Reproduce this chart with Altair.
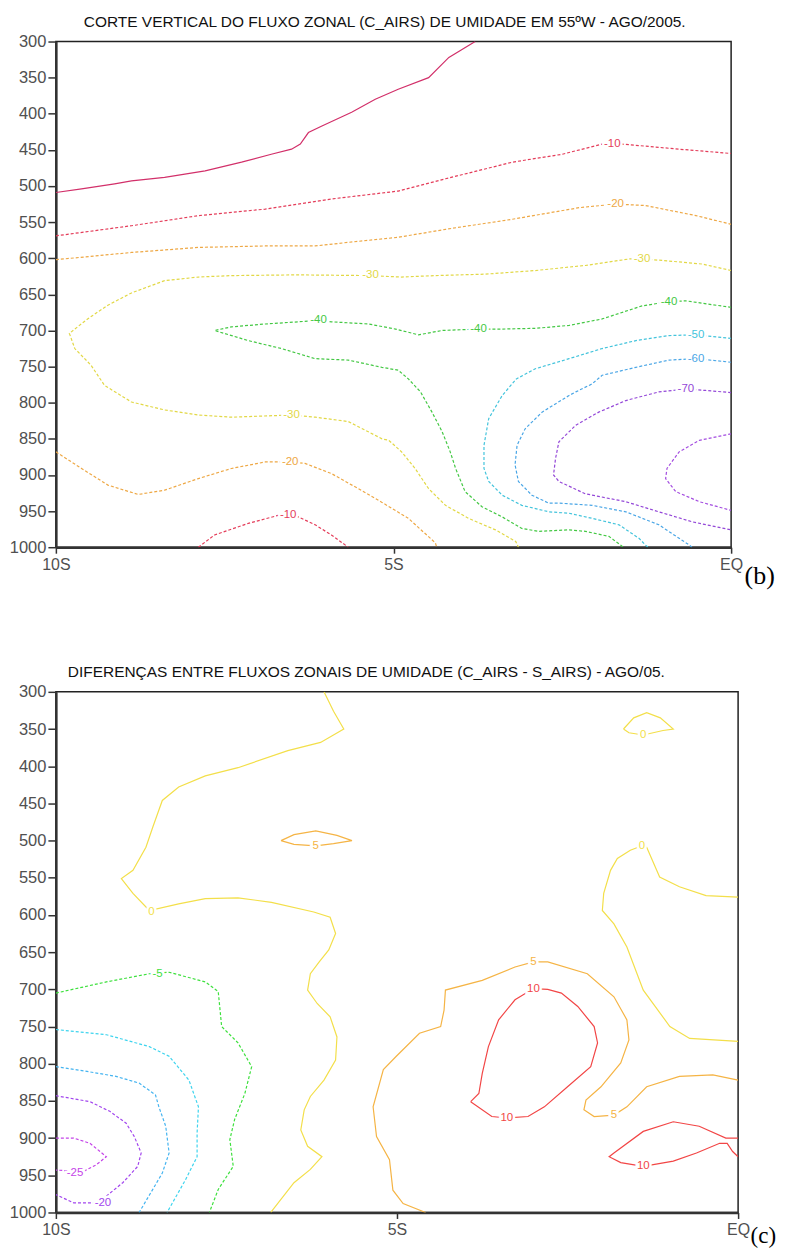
import altair as alt
import pandas as pd

# ---------------- panel (b): zonal moisture flux, C_AIRS, 55W, Aug/2005 ----------------
# latitude in degrees (south negative), pressure in hPa
T0_LAT = [-10.0, -9.62, -9.13, -8.88, -8.39, -7.79, -7.25, -6.81, -6.51, -6.38, -6.26, -6.06, -5.62, -5.27, -4.93, -4.48, -4.18, -3.79]
T0_P = [509, 504, 497, 493, 488, 479, 467, 456, 449, 442, 426, 417, 398, 380, 366, 350, 322, 300]

TM10A_LAT = [-10.0, -8.88, -7.89, -6.90, -5.92, -4.93, -4.23, -3.24, -2.50, -1.91, -1.61, -0.77, 0.0]
TM10A_P = [569, 555, 541, 532, 518, 507, 490, 467, 456, 442, 442, 449, 455]

TM10B_LAT = [-7.89, -7.65, -7.15, -6.71, -6.41, -6.16, -5.92, -5.67]
TM10B_P = [1000, 983, 967, 956, 958, 969, 983, 1000]

TM20A_LAT = [-10.0, -8.88, -7.89, -6.90, -6.16, -5.67, -4.93, -4.23, -3.24, -2.25, -1.71, -1.27, -0.52, 0.0]
TM20A_P = [602, 592, 585, 583, 583, 578, 571, 560, 546, 530, 525, 527, 541, 553]

TM20B_LAT = [-10.0, -9.62, -9.23, -8.78, -8.39, -7.89, -7.40, -6.90, -6.53, -6.31, -5.92, -5.52, -5.17, -4.78, -4.38, -4.36]
TM20B_P = [868, 891, 914, 927, 921, 905, 891, 882, 882, 884, 898, 919, 938, 960, 994, 1000]

TM30_LAT = [0.0, -0.43, -1.02, -1.32, -1.51, -2.16, -2.90, -3.64, -4.38, -4.88, -5.37, -6.41, -7.40, -7.89,
            -8.39, -8.88, -9.23, -9.53, -9.80, -9.72, -9.48, -9.28, -8.88, -8.39, -7.89, -7.40, -6.51, -6.16,
            -5.67, -5.17, -5.07, -4.88, -4.68, -4.48, -4.23, -3.89, -3.49, -3.19, -3.15]
TM30_P = [617, 608, 603, 601, 601, 610, 617, 622, 624, 626, 624, 623, 624, 626,
          631, 648, 665, 684, 704, 725, 748, 776, 799, 810, 817, 820, 817, 820,
          826, 850, 852, 868, 891, 919, 942, 960, 976, 992, 1000]

TM40_LAT = [0.0, -0.67, -0.92, -1.32, -1.91, -2.40, -2.90, -3.39, -3.74, -4.28, -4.63, -4.97, -5.37, -5.92,
            -6.11, -6.41, -6.90, -7.40, -7.65, -7.15, -6.66, -6.16, -5.67, -5.17, -4.93, -4.78, -4.60, -4.43,
            -4.28, -4.16, -4.08, -3.94, -3.69, -3.39, -3.10, -2.85, -2.40, -2.16, -1.81, -1.61, -1.59]
TM40_P = [668, 659, 660, 666, 684, 693, 697, 698, 698, 700, 706, 698, 691, 688,
          686, 688, 691, 695, 700, 714, 725, 739, 741, 751, 755, 767, 785, 813,
          840, 868, 891, 923, 944, 958, 974, 978, 976, 978, 985, 999, 1000]

TM50_LAT = [0.0, -0.52, -0.92, -1.41, -1.91, -2.40, -2.90, -3.18, -3.39, -3.59, -3.66, -3.66, -3.59, -3.39,
            -3.10, -2.70, -2.40, -2.06, -1.66, -1.36, -1.27, -1.23]
TM50_P = [711, 706, 707, 714, 725, 739, 753, 767, 790, 822, 859, 891, 909, 928,
          942, 951, 953, 960, 969, 988, 997, 1000]

TM60_LAT = [0.0, -0.52, -0.92, -1.41, -1.91, -2.06, -2.30, -2.40, -2.80, -3.05, -3.17, -3.20, -3.15, -2.95,
            -2.70, -2.55, -2.06, -1.56, -1.07, -0.62, -0.58]
TM60_P = [744, 739, 741, 751, 762, 774, 785, 790, 813, 836, 859, 886, 909, 928,
          939, 939, 942, 951, 969, 997, 1000]

TM70_LAT = [0.0, -0.38, -0.67, -1.07, -1.56, -1.96, -2.30, -2.55, -2.60, -2.63, -2.55, -2.16, -1.56, -1.07, -0.57, 0.0]
TM70_P = [786, 783, 781, 785, 797, 813, 831, 854, 877, 900, 909, 926, 937, 951, 965, 976]

TM80_LAT = [0.0, -0.47, -0.77, -0.95, -0.97, -0.82, -0.47, 0.0]
TM80_P = [843, 852, 868, 891, 905, 923, 937, 949]

TOP_KEYS = ["T0", "T-10", "T-20", "T-30", "T-40", "T-50", "T-60", "T-70", "T-80"]
TOP_COLORS = ["#d2306a", "#e43d5a", "#eea845", "#e2d846", "#44c844", "#44c4dc", "#4aa6e6", "#9448d8", "#a44ee0"]

TOP_LABEL_TEXT = ["-10", "-20", "-30", "-30", "-40", "-40", "-40", "-50", "-60", "-70", "-30", "-20", "-10"]
TOP_LABEL_LAT = [-1.76, -1.71, -1.32, -5.34, -0.92, -3.74, -6.11, -0.52, -0.52, -0.67, -6.51, -6.53, -6.56]
TOP_LABEL_P = [442, 525, 601, 623, 660, 698, 686, 706, 739, 781, 817, 882, 955]
TOP_LABEL_KEY = ["T-10", "T-20", "T-30", "T-30", "T-40", "T-40", "T-40", "T-50", "T-60", "T-70", "T-30", "T-20", "T-10"]

# ---------------- panel (c): differences C_AIRS - S_AIRS, Aug/05 ----------------
B0A_LAT = [-6.07, -5.93, -5.78, -6.12, -6.60, -7.33, -7.81, -8.20, -8.44, -8.58, -8.68, -8.87, -9.04, -8.87,
           -8.63, -8.20, -7.81, -7.33, -6.84, -6.22, -5.98, -5.90, -6.00, -6.14, -6.27, -6.31, -6.17, -5.98,
           -5.88, -5.90, -6.07, -6.27, -6.36, -6.41, -6.31, -6.10, -6.27, -6.51, -6.85]
B0A_P = [300, 326, 350, 368, 379, 402, 413, 428, 446, 482, 509, 540, 551, 571,
         594, 585, 578, 577, 583, 596, 603, 625, 647, 663, 679, 701, 719, 737,
         764, 795, 822, 844, 862, 889, 911, 925, 942, 960, 1000]

B0B_LAT = [-1.68, -1.53, -1.34, -1.14, -0.95, -1.10, -1.39, -1.60, -1.68]
B0B_P = [350, 335, 328, 335, 350, 352, 358, 355, 350]

B0C_LAT = [0.0, -0.47, -0.86, -1.15, -1.34, -1.41, -1.58, -1.77, -1.87, -1.97, -1.99, -1.82, -1.63, -1.39, -1.0, -0.71, 0.0]
B0C_P = [576, 574, 562, 549, 509, 507, 513, 524, 540, 571, 594, 612, 643, 701, 750, 766, 770]

B5A_LAT = [-6.70, -6.51, -6.19, -5.88, -5.66, -5.93, -6.19, -6.51, -6.70]
B5A_P = [500, 492, 487, 493, 500, 504, 507, 505, 500]

B5B_LAT = [-4.58, -4.91, -5.06, -5.11, -5.30, -5.35, -5.20, -5.01, -4.67, -4.36, -4.31, -4.29, -3.75, -3.27,
           -3.00, -2.79, -2.21, -1.82, -1.63, -1.60, -1.72, -2.01, -2.23, -2.26, -2.11, -1.82, -1.63, -1.34,
           -0.86, -0.37, 0.0]
B5B_P = [1000, 988, 970, 929, 898, 858, 808, 790, 759, 750, 728, 701, 688, 670,
         663, 663, 679, 710, 741, 768, 799, 831, 849, 862, 871, 869, 858, 831,
         817, 815, 822]

B10A_LAT = [-3.92, -3.80, -3.75, -3.66, -3.51, -3.27, -3.00, -2.79, -2.59, -2.35, -2.11, -2.06, -2.16, -2.50,
            -2.84, -3.08, -3.39, -3.61, -3.92]
B10A_P = [851, 840, 813, 777, 741, 714, 699, 700, 705, 723, 750, 772, 804, 831,
          858, 871, 873, 871, 851]

B10B_LAT = [0.0, -0.18, -0.57, -0.95, -1.39, -1.82, -1.89, -1.72, -1.39, -0.95, -0.61, -0.27, -0.16, -0.08, 0.0]
B10B_P = [900, 900, 884, 878, 891, 920, 925, 933, 938, 931, 920, 907, 907, 918, 925]

BM5_LAT = [-10.0, -9.26, -8.63, -8.34, -7.81, -7.62, -7.57, -7.33, -7.13, -7.23, -7.38, -7.45, -7.40, -7.62, -7.75]
BM5_P = [705, 690, 679, 677, 690, 703, 750, 772, 804, 840, 875, 902, 938, 969, 1000]

BM10_LAT = [-10.0, -9.26, -8.63, -8.34, -8.05, -7.91, -7.93, -7.93, -8.10, -8.37]
BM10_P = [754, 761, 777, 790, 822, 858, 893, 925, 956, 1000]

BM15_LAT = [-10.0, -9.50, -9.12, -8.78, -8.54, -8.49, -8.39, -8.34, -8.44, -8.58, -8.78]
BM15_P = [804, 811, 817, 826, 842, 858, 884, 920, 947, 969, 1000]

BM20_LAT = [-10.0, -9.50, -9.21, -8.97, -8.85, -8.75, -8.80, -9.02, -9.26, -9.45, -9.74, -10.0]
BM20_P = [843, 851, 864, 880, 898, 920, 938, 960, 978, 987, 987, 976]

BM25_LAT = [-10.0, -9.74, -9.50, -9.26, -9.41, -9.60, -10.0]
BM25_P = [900, 900, 907, 925, 936, 945, 943]

BOT_KEYS = ["B10", "B5", "B0", "B-5", "B-10", "B-15", "B-20", "B-25"]
BOT_COLORS = ["#f24646", "#f5b445", "#f3df4a", "#3ee03e", "#3ed4ee", "#45b4f0", "#a246ee", "#c444e8"]

BOT_LABEL_TEXT = ["-5", "-25", "-20", "0", "5", "0", "0", "5", "10", "10", "5", "10"]
BOT_LABEL_LAT = [-8.51, -9.72, -9.31, -8.60, -6.19, -1.39, -1.41, -3.00, -3.00, -3.39, -1.82, -1.39]
BOT_LABEL_P = [679, 947, 987, 596, 507, 358, 507, 663, 699, 873, 869, 938]
BOT_LABEL_KEY = ["B-5", "B-25", "B-20", "B0", "B5", "B0", "B0", "B5", "B10", "B10", "B5", "B10"]

P_TICKS = list(range(300, 1001, 50))
LAT_TICKS = [-10, -5, 0]

TOP_TITLE = "CORTE VERTICAL DO FLUXO ZONAL (C_AIRS) DE UMIDADE EM 55ºW - AGO/2005."
BOT_TITLE = "DIFERENÇAS ENTRE FLUXOS ZONAIS DE UMIDADE (C_AIRS - S_AIRS) - AGO/05."

TOP_CONTOURS = [
    ("t0", "T0", "solid", T0_LAT, T0_P),
    ("t10a", "T-10", "dash", TM10A_LAT, TM10A_P),
    ("t10b", "T-10", "dash", TM10B_LAT, TM10B_P),
    ("t20a", "T-20", "dash", TM20A_LAT, TM20A_P),
    ("t20b", "T-20", "dash", TM20B_LAT, TM20B_P),
    ("t30", "T-30", "dash", TM30_LAT, TM30_P),
    ("t40", "T-40", "dash", TM40_LAT, TM40_P),
    ("t50", "T-50", "dash", TM50_LAT, TM50_P),
    ("t60", "T-60", "dash", TM60_LAT, TM60_P),
    ("t70", "T-70", "dash", TM70_LAT, TM70_P),
    ("t80", "T-80", "dash", TM80_LAT, TM80_P),
]
BOT_CONTOURS = [
    ("b0a", "B0", "solid", B0A_LAT, B0A_P),
    ("b0b", "B0", "solid", B0B_LAT, B0B_P),
    ("b0c", "B0", "solid", B0C_LAT, B0C_P),
    ("b5a", "B5", "solid", B5A_LAT, B5A_P),
    ("b5b", "B5", "solid", B5B_LAT, B5B_P),
    ("b10a", "B10", "solid", B10A_LAT, B10A_P),
    ("b10b", "B10", "solid", B10B_LAT, B10B_P),
    ("bm5", "B-5", "dash", BM5_LAT, BM5_P),
    ("bm10", "B-10", "dash", BM10_LAT, BM10_P),
    ("bm15", "B-15", "dash", BM15_LAT, BM15_P),
    ("bm20", "B-20", "dash", BM20_LAT, BM20_P),
    ("bm25", "B-25", "dash", BM25_LAT, BM25_P),
]


def contour_frame(contours):
    rows = []
    for seg, key, style, lats, ps in contours:
        for i, (la, pp) in enumerate(zip(lats, ps)):
            rows.append({"seg": seg, "key": key, "style": style, "i": i, "lat": la, "p": pp})
    return pd.DataFrame(rows)


def label_frame(texts, lats, ps, keys):
    return pd.DataFrame({"text": texts, "lat": lats, "p": ps, "key": keys})


TITLE_FONT = "Liberation Sans"
LABEL_FONT = "Liberation Sans"
TAG_FONT = "Liberation Serif"


def panel(df, labels, keys, colors, width, height, title, title_dx, tag, tag_gap, tag_y, tag_size):
    x_axis = alt.Axis(
        values=LAT_TICKS, title=tag, grid=False,
        labelExpr="datum.value == -10 ? '10S' : (datum.value == -5 ? '5S' : 'EQ')",
        labelFont=LABEL_FONT, labelFontSize=16, labelColor="#505050",
        labelPadding=3, tickSize=6, tickColor="#333", tickWidth=1.5,
        domainColor="#333", domainWidth=2.5, labelFlush=False, labelOverlap=False,
        titleFont=TAG_FONT, titleFontSize=tag_size, titleFontWeight="normal", titleColor="#000",
        titleX=width + tag_gap, titleY=tag_y, titleAlign="left", titleBaseline="alphabetic",
        titleAnchor="start",
    )
    y_axis = alt.Axis(
        values=P_TICKS, title=None, grid=False, format="d",
        labelFont=LABEL_FONT, labelFontSize=16.5, labelColor="#505050",
        labelPadding=2, tickSize=8, tickColor="#333", tickWidth=1.5,
        domainColor="#333", domainWidth=2.5, labelOverlap=False,
    )
    xs = alt.X("lat:Q", scale=alt.Scale(domain=[-10, 0], nice=False, zero=False), axis=x_axis)
    ys = alt.Y("p:Q", scale=alt.Scale(domain=[300, 1000], reverse=True, nice=False, zero=False), axis=y_axis)
    col = alt.Color("key:N", scale=alt.Scale(domain=keys, range=colors), legend=None)

    base = alt.Chart(df)
    solid = base.transform_filter(alt.datum.style == "solid").mark_line(
        strokeWidth=1.2, clip=True
    ).encode(x=xs, y=ys, color=col, detail="seg:N", order="i:Q")
    dashed = base.transform_filter(alt.datum.style == "dash").mark_line(
        strokeWidth=1.2, strokeDash=[3, 2], clip=True
    ).encode(x=xs, y=ys, color=col, detail="seg:N", order="i:Q")
    halo = alt.Chart(labels).mark_text(
        font=LABEL_FONT, fontSize=11.5, fill="white", stroke="white", strokeWidth=5
    ).encode(x=xs, y=ys, text="text:N")
    txt = alt.Chart(labels).mark_text(font=LABEL_FONT, fontSize=11.5).encode(
        x=xs, y=ys, text="text:N", color=col
    )
    return alt.layer(solid, dashed, halo, txt).properties(
        width=width, height=height,
        title=alt.TitleParams(
            text=title, anchor="start", frame="group", dx=title_dx, offset=3,
            font=TITLE_FONT, fontSize=15.5, fontWeight="normal", color="#111",
        ),
    )


top = panel(contour_frame(TOP_CONTOURS),
            label_frame(TOP_LABEL_TEXT, TOP_LABEL_LAT, TOP_LABEL_P, TOP_LABEL_KEY),
            TOP_KEYS, TOP_COLORS, 677, 507, TOP_TITLE, 28, "(b)", 13, 36, 26)
bottom = panel(contour_frame(BOT_CONTOURS),
               label_frame(BOT_LABEL_TEXT, BOT_LABEL_LAT, BOT_LABEL_P, BOT_LABEL_KEY),
               BOT_KEYS, BOT_COLORS, 684, 522, BOT_TITLE, 12, "(c)", 12, 30, 23)

chart = alt.vconcat(top, bottom, spacing=75).resolve_scale(
    x="independent", y="independent", color="independent"
).properties(
    padding={"left": 0, "top": 4, "right": 0, "bottom": 0}
).configure_view(stroke="#222", strokeWidth=1.5)

chart.save("out.html", embed_options={"renderer": "svg", "actions": False})
